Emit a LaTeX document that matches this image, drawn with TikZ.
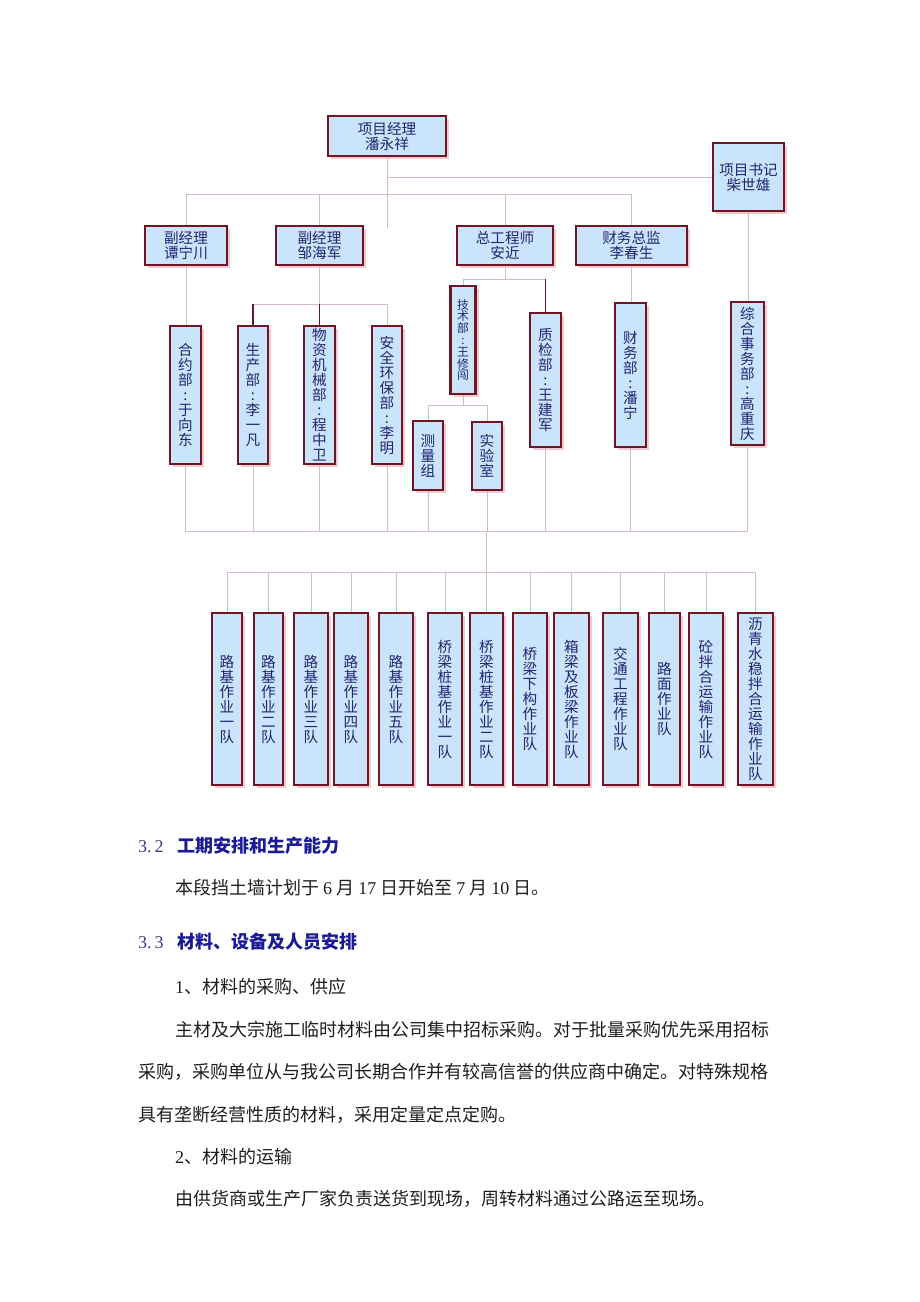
\documentclass[tikz,border=0pt]{standalone}
\usepackage{fontspec}
\setmainfont{Liberation Serif}
\newfontfamily\cjk{Noto Sans CJK SC}
\usepackage{tikz}
\usetikzlibrary{positioning,shadows}
\definecolor{boxfill}{RGB}{202,228,251}
\definecolor{boxline}{RGB}{112,22,34}
\definecolor{shadecolor}{RGB}{246,200,207}
\definecolor{linkcolor}{RGB}{212,188,194}
\definecolor{textnavy}{RGB}{36,36,112}
\definecolor{headblue}{RGB}{26,26,150}
\definecolor{numblue}{RGB}{60,60,140}
\definecolor{bodytext}{RGB}{30,30,30}
\newcommand{\dg}[1]{{\rmfamily #1}}

\begin{document}
\begin{tikzpicture}[x=1pt, y=-1pt,
    unit/.style={rectangle, draw=boxline, line width=2.2pt, fill=boxfill, text=textnavy, inner sep=0pt, align=center,
        font=\cjk\fontsize{14.6}{15}\selectfont,
        drop shadow={shadow xshift=3pt, shadow yshift=-3pt, fill=shadecolor, opacity=1}},
    small/.style={font=\cjk\fontsize{11.8}{11.8}\selectfont},
    link/.style={draw=linkcolor, line width=0.9pt},
    strong/.style={draw=boxline, line width=1.6pt},
    body/.style={anchor=west, inner sep=0pt, text=bodytext, font=\cjk\fontsize{18}{22}\selectfont},
    head/.style={body, text=headblue}
]
\useasboundingbox (0,0) rectangle (920,1302);

\node[unit, minimum width=118, minimum height=40] (pm) at (387,136) {项目经理\\潘永祥};
\node[unit, minimum width=71, minimum height=68] (sec) at (748.5,177) {项目书记\\柴世雄};
\node[unit, minimum width=82, minimum height=39] (vp1) at (186,245.5) {副经理\\谭宁川};
\node[unit, minimum width=87, minimum height=39] (vp2) at (319.5,245.5) {副经理\\邹海军};
\node[unit, minimum width=96, minimum height=39] (chief) at (505,245.5) {总工程师\\安近};
\node[unit, minimum width=111, minimum height=39] (fin) at (631.5,245.5) {财务总监\\李春生};

\node[unit, minimum width=31, minimum height=138] (contract) at (185.5,395) {合\\约\\部\\:\\于\\向\\东};
\node[unit, minimum width=30, minimum height=138] (prod) at (253,395) {生\\产\\部\\:\\李\\一\\凡};
\node[unit, minimum width=31, minimum height=138] (equip) at (319.5,395) {物\\资\\机\\械\\部\\:\\程\\中\\卫};
\node[unit, minimum width=30, minimum height=138] (safety) at (387,395) {安\\全\\环\\保\\部\\:\\李\\明};
\node[unit, small, minimum width=25, minimum height=108] (tech) at (463,340) {技\\术\\部\\:\\王\\修\\闯};
\node[unit, minimum width=30, minimum height=69] (survey) at (428,455.5) {测\\量\\组};
\node[unit, minimum width=30, minimum height=68] (lab) at (487,456) {实\\验\\室};
\node[unit, minimum width=31, minimum height=134] (qc) at (545.5,380) {质\\检\\部\\:\\王\\建\\军};
\node[unit, minimum width=31, minimum height=144] (acct) at (630.5,375) {财\\务\\部\\:\\潘\\宁};
\node[unit, minimum width=33, minimum height=143] (admin) at (747.5,373.5) {综\\合\\事\\务\\部\\:\\高\\重\\庆};

\node[unit, minimum width=30, minimum height=172] (team1) at (227,699) {路\\基\\作\\业\\一\\队};
\node[unit, minimum width=29, minimum height=172] (team2) at (268.5,699) {路\\基\\作\\业\\二\\队};
\node[unit, minimum width=34, minimum height=172] (team3) at (311,699) {路\\基\\作\\业\\三\\队};
\node[unit, minimum width=34, minimum height=172] (team4) at (351,699) {路\\基\\作\\业\\四\\队};
\node[unit, minimum width=34, minimum height=172] (team5) at (396,699) {路\\基\\作\\业\\五\\队};
\node[unit, minimum width=34, minimum height=172] (team6) at (445,699) {桥\\梁\\桩\\基\\作\\业\\一\\队};
\node[unit, minimum width=33, minimum height=172] (team7) at (486.5,699) {桥\\梁\\桩\\基\\作\\业\\二\\队};
\node[unit, minimum width=34, minimum height=172] (team8) at (530,699) {桥\\梁\\下\\构\\作\\业\\队};
\node[unit, minimum width=35, minimum height=172] (team9) at (571.5,699) {箱\\梁\\及\\板\\梁\\作\\业\\队};
\node[unit, minimum width=35, minimum height=172] (team10) at (620.5,699) {交\\通\\工\\程\\作\\业\\队};
\node[unit, minimum width=31, minimum height=172] (team11) at (664.5,699) {路\\面\\作\\业\\队};
\node[unit, minimum width=34, minimum height=172] (team12) at (706,699) {砼\\拌\\合\\运\\输\\作\\业\\队};
\node[unit, minimum width=35, minimum height=172] (team13) at (755.5,699) {沥\\青\\水\\稳\\拌\\合\\运\\输\\作\\业\\队};

\coordinate (trunk) at (387,228);
\coordinate (busA) at (0,194);
\coordinate (busB) at (0,304);
\coordinate (busC) at (0,279);
\coordinate (busD) at (0,405);
\coordinate (busE) at (0,531);
\coordinate (busF) at (0,572);

\draw[link] (pm.south) -- (trunk);
\draw[link] (pm.south |- sec.west) -- (sec.west);
\draw[link] (vp1.north) |- (busA -| fin.north) -- (fin.north);
\draw[link] (vp2.north) -- (vp2.north |- busA);
\draw[link] (chief.north) -- (chief.north |- busA);

\draw[link] (vp1.south) -- (vp1.south |- contract.north);
\draw[link] (vp2.south) -- (vp2.south |- busB);
\draw[link] (prod.north |- busB) -- (safety.north |- busB) -- (safety.north);
\draw[strong] (prod.north |- busB) -- (prod.north);
\draw[strong] (equip.north |- busB) -- (equip.north);

\draw[link] (chief.south) -- (chief.south |- busC);
\draw[link] (tech.north) |- (qc.north |- busC);
\draw[strong] (qc.north |- busC) -- (qc.north);
\draw[link] (tech.south) -- (tech.south |- busD);
\draw[link] (survey.north) |- (lab.north |- busD) -- (lab.north);

\draw[link] (fin.south) -- (fin.south |- acct.north);
\draw[link] (sec.south) -- (sec.south |- admin.north);

\draw[link] (contract.south) |- (admin.south |- busE) -- (admin.south);
\draw[link] (prod.south) -- (prod.south |- busE);
\draw[link] (equip.south) -- (equip.south |- busE);
\draw[link] (safety.south) -- (safety.south |- busE);
\draw[link] (survey.south) -- (survey.south |- busE);
\draw[link] (lab.south) -- (lab.south |- busE);
\draw[link] (qc.south) -- (qc.south |- busE);
\draw[link] (acct.south) -- (acct.south |- busE);

\draw[link] (team7.north |- busE) -- (team7.north);
\draw[link] (team1.north) |- (team13.north |- busF) -- (team13.north);
\draw[link] (team2.north) -- (team2.north |- busF);
\draw[link] (team3.north) -- (team3.north |- busF);
\draw[link] (team4.north) -- (team4.north |- busF);
\draw[link] (team5.north) -- (team5.north |- busF);
\draw[link] (team6.north) -- (team6.north |- busF);
\draw[link] (team8.north) -- (team8.north |- busF);
\draw[link] (team9.north) -- (team9.north |- busF);
\draw[link] (team10.north) -- (team10.north |- busF);
\draw[link] (team11.north) -- (team11.north |- busF);
\draw[link] (team12.north) -- (team12.north |- busF);

\node[head] (sched) at (138,846) {{\color{numblue}\rmfamily 3.\,2}\hspace{14pt}{\bfseries 工期安排和生产能力}};
\node[body] (plan) at (175,888) {本段挡土墙计划于 \dg{6} 月 \dg{17} 日开始至 \dg{7} 月 \dg{10} 日。};
\node[head] (supply) at (138,942) {{\color{numblue}\rmfamily 3.\,3}\hspace{14pt}{\bfseries 材料、设备及人员安排}};
\node[body] (buy) at (175,987) {\dg{1}、材料的采购、供应};
\node[body] (buya) at (175,1030) {主材及大宗施工临时材料由公司集中招标采购。对于批量采购优先采用招标};
\node[body] (buyb) at (138,1072) {采购，采购单位从与我公司长期合作并有较高信誉的供应商中确定。对特殊规格};
\node[body] (buyc) at (138,1115) {具有垄断经营性质的材料，采用定量定点定购。};
\node[body] (haul) at (175,1157) {\dg{2}、材料的运输};
\node[body] (haula) at (175,1199) {由供货商或生产厂家负责送货到现场，周转材料通过公路运至现场。};
\end{tikzpicture}
\end{document}
